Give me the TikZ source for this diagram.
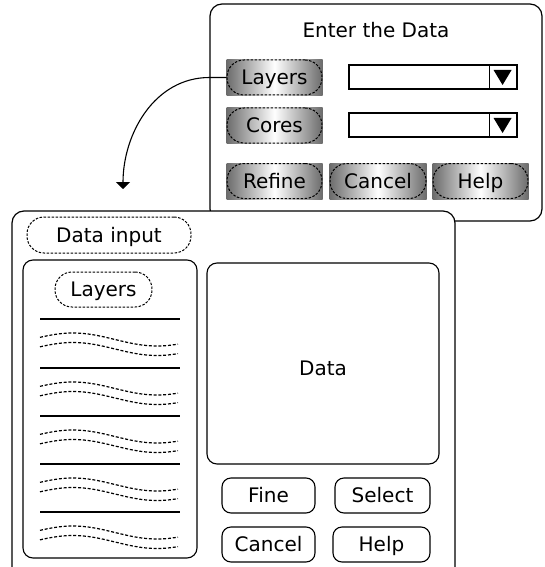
\documentclass[tikz,border=0pt]{standalone}
\usepackage{fontspec}
\setmainfont{DejaVu Sans}
\usetikzlibrary{backgrounds,arrows.meta,calc}
\tikzset{
  win/.style={draw, line width=1.2pt, rounded corners=12pt, inner sep=0pt},
  panel/.style={draw, line width=1.1pt, rounded corners=10pt, inner sep=0pt},
  dashbtn/.style={draw, line width=1pt, dash pattern=on 2.5pt off 1.5pt, rounded corners=17pt,
    minimum height=35pt, inner sep=0pt, text height=14pt, text depth=0pt},
  metal/.style={left color=black!58, right color=black!58, middle color=white},
  solidbtn/.style={draw, line width=1.1pt, rounded corners=9pt, minimum height=35pt, inner sep=0pt,
    text height=14pt, text depth=0pt},
  combo/.style={draw, line width=1.1pt, minimum width=168pt, minimum height=24pt, inner sep=0pt},
  wavy/.style={line width=1.2pt, dash pattern=on 3pt off 1.8pt}
}
\begin{document}
\begin{tikzpicture}[x=1pt, y=-1pt, font=\fontsize{20}{24}\selectfont]
    \useasboundingbox (0,0) rectangle (544,567);
    \clip (0,0) rectangle (544,567);
    % dialog on top
    \node[win, minimum width=332pt, minimum height=217pt] (topWin) at (376,112.5) {};
    \node (title) at (376,30) {Enter the Data};
    \node[dashbtn, minimum width=95pt] (layers) at (274.5,77.5) {Layers};
    \node[dashbtn, minimum width=95pt] (cores) at (274.5,125.5) {Cores};
    \node[dashbtn, minimum width=95pt] (refine) at (274.5,181) {Refine};
    \node[dashbtn, minimum width=96pt] (cancelTop) at (378,181) {Cancel};
    \node[dashbtn, minimum width=95pt] (helpTop) at (480.5,181) {Help};
    \begin{scope}[on background layer]
        \foreach \b in {layers,cores,refine,cancelTop,helpTop}
            \shade[metal] (\b.south west) rectangle (\b.north east);
    \end{scope}
    \foreach \c/\y in {comboA/77,comboB/125} {
        \node[combo] (\c) at (433,\y) {};
        \draw[line width=1.1pt] ($(\c.north east)+(-28,0)$) -- ($(\c.south east)+(-28,0)$);
        \fill ($(\c.east)+(-24,-7)$) -- ++(18,0) -- ++(-9,15) -- cycle;
    }
    \coordinate (arrowEnd) at (123,189);
    \draw[line width=1.1pt, -{Triangle[width=14pt,length=7pt]}] (layers.west) -- ++(-17,0)
        to[out=180,in=90] (arrowEnd);
    % dialog below
    \node[win, fill=white, minimum width=443pt, minimum height=380pt] (inputWin) at (233.5,401) {};
    \node[dashbtn, minimum width=164pt, minimum height=36pt] (dataInput) at (109,235) {Data input};
    \node[panel, minimum width=174pt, minimum height=298pt] (layerList) at (110,409) {};
    \node[dashbtn, minimum width=97pt] (layersLbl) at (103.5,289.5) {Layers};
    \foreach \y in {319,368,416,464,512} {
        \draw[line width=1.3pt] (40,\y) -- (180,\y);
        \draw[wavy] plot[domain=40:178, samples=50] (\x,{\y+20.5-6.5*sin(2.142857*(\x-31))});
        \draw[wavy] plot[domain=40:178, samples=50] (\x,{\y+30-6.5*sin(2.142857*(\x-31))});
    }
    \node[panel, minimum width=232pt, minimum height=201pt, text height=24pt, text depth=0pt] (dataPanel)
        at (323,363.5) {Data};
    \node[solidbtn, minimum width=93pt] (fine) at (268.5,495.5) {Fine};
    \node[solidbtn, minimum width=95pt] (select) at (382.5,495.5) {Select};
    \node[solidbtn, minimum width=93pt] (cancelBot) at (268.5,544.5) {Cancel};
    \node[solidbtn, minimum width=97pt] (helpBot) at (381.5,544.5) {Help};
\end{tikzpicture}
\end{document}
